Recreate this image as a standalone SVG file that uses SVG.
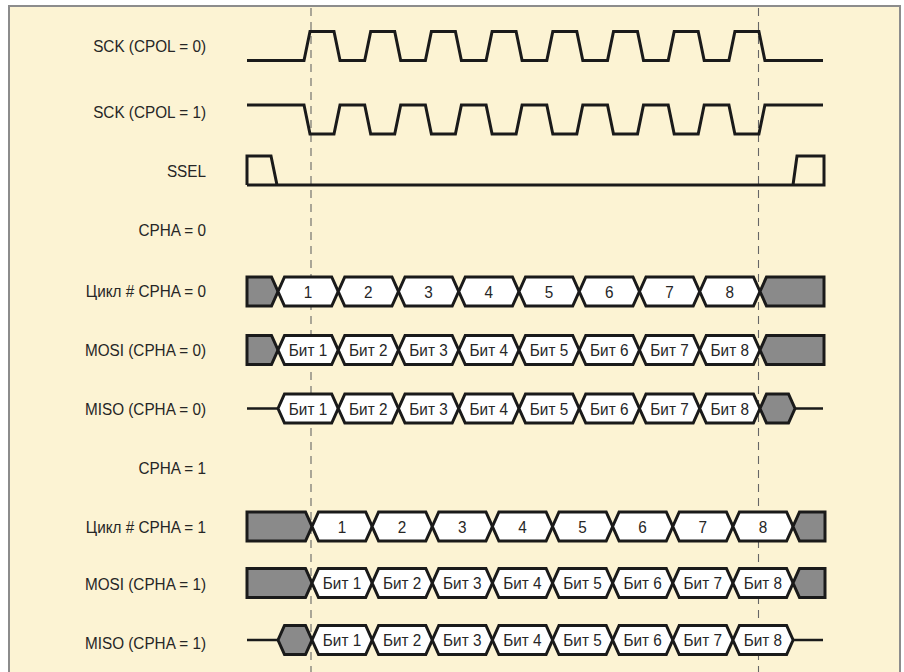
<svg xmlns="http://www.w3.org/2000/svg" xmlns:xlink="http://www.w3.org/1999/xlink" width="904" height="672" viewBox="0 0 904 672">
<style>
.lbl{font-family:"Liberation Sans",Arial,sans-serif;font-size:17px;fill:#262626;text-anchor:end}
.ht{font-family:"Liberation Sans",Arial,sans-serif;font-size:17px;fill:#262626;text-anchor:middle}
.wave{fill:none;stroke:#1a1a1a;stroke-width:3;stroke-linejoin:miter}
.hex{fill:#ffffff;stroke:#1a1a1a;stroke-width:3;stroke-linejoin:miter}
.gray{fill:#8a8a8a;stroke:#1a1a1a;stroke-width:3;stroke-linejoin:miter}
.idle{fill:none;stroke:#1a1a1a;stroke-width:2.5}
.dash{stroke:#666;stroke-width:1.1;stroke-dasharray:8 6;fill:none}
</style>
<defs>
<polygon id="hx" class="hex" points="0,0 6.5,-14.5 53.7,-14.5 60.2,0 53.7,14.5 6.5,14.5"/>
</defs>
<rect x="0" y="0" width="904" height="672" fill="#ffffff"/>
<rect x="9" y="6" width="891" height="680" fill="#fcf3d3" stroke="#8c8c8c" stroke-width="2"/>

<g id="connectors">
<line class="dash" x1="311" y1="8" x2="311" y2="672"/>
<line class="dash" x1="758.5" y1="8" x2="758.5" y2="672"/>
</g>

<g id="sck0">
<text class="lbl" transform="translate(206,52) scale(0.9,1)">SCK (CPOL = 0)</text>
<path class="wave" d="M247,60.5 L304,60.5 L310,31.5 L334,31.5 L340,60.5 L364.7,60.5 L370.7,31.5 L394.7,31.5 L400.7,60.5 L425.4,60.5 L431.4,31.5 L455.4,31.5 L461.4,60.5 L486.1,60.5 L492.1,31.5 L516.1,31.5 L522.1,60.5 L546.8,60.5 L552.8,31.5 L576.8,31.5 L582.8,60.5 L607.5,60.5 L613.5,31.5 L637.5,31.5 L643.5,60.5 L668.2,60.5 L674.2,31.5 L698.2,31.5 L704.2,60.5 L728.9,60.5 L734.9,31.5 L758.9,31.5 L764.9,60.5 L823,60.5"/>
</g>

<g id="sck1">
<text class="lbl" transform="translate(206,118) scale(0.9,1)">SCK (CPOL = 1)</text>
<path class="wave" d="M247,105 L304,105 L310,134 L334,134 L340,105 L364.7,105 L370.7,134 L394.7,134 L400.7,105 L425.4,105 L431.4,134 L455.4,134 L461.4,105 L486.1,105 L492.1,134 L516.1,134 L522.1,105 L546.8,105 L552.8,134 L576.8,134 L582.8,105 L607.5,105 L613.5,134 L637.5,134 L643.5,105 L668.2,105 L674.2,134 L698.2,134 L704.2,105 L728.9,105 L734.9,134 L758.9,134 L764.9,105 L823,105"/>
</g>

<g id="ssel">
<text class="lbl" transform="translate(206,177) scale(0.9,1)">SSEL</text>
<path class="wave" d="M247,185 L247,156 L271,156 L277,185 M247,185 L824,185 L824,156 L797,156 L793,185"/>
</g>

<g id="cpha0">
<text class="lbl" transform="translate(206,236) scale(0.9,1)">CPHA = 0</text>
</g>

<g id="cycle0">
<text class="lbl" transform="translate(206,297) scale(0.9,1)">Цикл # CPHA = 0</text>
<polygon class="gray" points="247,277 271.5,277 278,291.5 271.5,306 247,306"/>
<use xlink:href="#hx" x="278" y="291.5"/><use xlink:href="#hx" x="338.25" y="291.5"/><use xlink:href="#hx" x="398.5" y="291.5"/><use xlink:href="#hx" x="458.75" y="291.5"/>
<use xlink:href="#hx" x="519" y="291.5"/><use xlink:href="#hx" x="579.25" y="291.5"/><use xlink:href="#hx" x="639.5" y="291.5"/><use xlink:href="#hx" x="699.75" y="291.5"/>
<polygon class="gray" points="760,291.5 766.5,277 824,277 824,306 766.5,306"/>
<text class="ht" transform="translate(308,297.5) scale(0.9,1)">1</text><text class="ht" transform="translate(368.25,297.5) scale(0.9,1)">2</text><text class="ht" transform="translate(428.5,297.5) scale(0.9,1)">3</text><text class="ht" transform="translate(488.75,297.5) scale(0.9,1)">4</text>
<text class="ht" transform="translate(549,297.5) scale(0.9,1)">5</text><text class="ht" transform="translate(609.25,297.5) scale(0.9,1)">6</text><text class="ht" transform="translate(669.5,297.5) scale(0.9,1)">7</text><text class="ht" transform="translate(729.75,297.5) scale(0.9,1)">8</text>
</g>

<g id="mosi0">
<text class="lbl" transform="translate(206,356) scale(0.9,1)">MOSI (CPHA = 0)</text>
<polygon class="gray" points="247,335.5 271.5,335.5 278,350 271.5,364.5 247,364.5"/>
<use xlink:href="#hx" x="278" y="350"/><use xlink:href="#hx" x="338.25" y="350"/><use xlink:href="#hx" x="398.5" y="350"/><use xlink:href="#hx" x="458.75" y="350"/>
<use xlink:href="#hx" x="519" y="350"/><use xlink:href="#hx" x="579.25" y="350"/><use xlink:href="#hx" x="639.5" y="350"/><use xlink:href="#hx" x="699.75" y="350"/>
<polygon class="gray" points="760,350 766.5,335.5 824,335.5 824,364.5 766.5,364.5"/>
<text class="ht" transform="translate(308,356) scale(0.9,1)">Бит 1</text><text class="ht" transform="translate(368.25,356) scale(0.9,1)">Бит 2</text><text class="ht" transform="translate(428.5,356) scale(0.9,1)">Бит 3</text><text class="ht" transform="translate(488.75,356) scale(0.9,1)">Бит 4</text>
<text class="ht" transform="translate(549,356) scale(0.9,1)">Бит 5</text><text class="ht" transform="translate(609.25,356) scale(0.9,1)">Бит 6</text><text class="ht" transform="translate(669.5,356) scale(0.9,1)">Бит 7</text><text class="ht" transform="translate(729.75,356) scale(0.9,1)">Бит 8</text>
</g>

<g id="miso0">
<text class="lbl" transform="translate(206,414.5) scale(0.9,1)">MISO (CPHA = 0)</text>
<line class="idle" x1="247" y1="408.5" x2="278" y2="408.5"/>
<use xlink:href="#hx" x="278" y="408.5"/><use xlink:href="#hx" x="338.25" y="408.5"/><use xlink:href="#hx" x="398.5" y="408.5"/><use xlink:href="#hx" x="458.75" y="408.5"/>
<use xlink:href="#hx" x="519" y="408.5"/><use xlink:href="#hx" x="579.25" y="408.5"/><use xlink:href="#hx" x="639.5" y="408.5"/><use xlink:href="#hx" x="699.75" y="408.5"/>
<polygon class="gray" points="760,408.5 766.5,394 788.5,394 795,408.5 788.5,423 766.5,423"/>
<line class="idle" x1="795" y1="408.5" x2="823" y2="408.5"/>
<text class="ht" transform="translate(308,414.5) scale(0.9,1)">Бит 1</text><text class="ht" transform="translate(368.25,414.5) scale(0.9,1)">Бит 2</text><text class="ht" transform="translate(428.5,414.5) scale(0.9,1)">Бит 3</text><text class="ht" transform="translate(488.75,414.5) scale(0.9,1)">Бит 4</text>
<text class="ht" transform="translate(549,414.5) scale(0.9,1)">Бит 5</text><text class="ht" transform="translate(609.25,414.5) scale(0.9,1)">Бит 6</text><text class="ht" transform="translate(669.5,414.5) scale(0.9,1)">Бит 7</text><text class="ht" transform="translate(729.75,414.5) scale(0.9,1)">Бит 8</text>
</g>

<g id="cpha1">
<text class="lbl" transform="translate(206,474) scale(0.9,1)">CPHA = 1</text>
</g>

<g id="cycle1">
<text class="lbl" transform="translate(206,533) scale(0.9,1)">Цикл # CPHA = 1</text>
<polygon class="gray" points="247,512 305.5,512 312,526.5 305.5,541 247,541"/>
<use xlink:href="#hx" x="312" y="526.5"/><use xlink:href="#hx" x="372.1" y="526.5"/><use xlink:href="#hx" x="432.25" y="526.5"/><use xlink:href="#hx" x="492.4" y="526.5"/>
<use xlink:href="#hx" x="552.5" y="526.5"/><use xlink:href="#hx" x="612.6" y="526.5"/><use xlink:href="#hx" x="672.75" y="526.5"/><use xlink:href="#hx" x="732.9" y="526.5"/>
<polygon class="gray" points="793,526.5 799.5,512 825,512 825,541 799.5,541"/>
<text class="ht" transform="translate(342,532.5) scale(0.9,1)">1</text><text class="ht" transform="translate(402.1,532.5) scale(0.9,1)">2</text><text class="ht" transform="translate(462.25,532.5) scale(0.9,1)">3</text><text class="ht" transform="translate(522.4,532.5) scale(0.9,1)">4</text>
<text class="ht" transform="translate(582.5,532.5) scale(0.9,1)">5</text><text class="ht" transform="translate(642.6,532.5) scale(0.9,1)">6</text><text class="ht" transform="translate(702.75,532.5) scale(0.9,1)">7</text><text class="ht" transform="translate(762.9,532.5) scale(0.9,1)">8</text>
</g>

<g id="mosi1">
<text class="lbl" transform="translate(206,590) scale(0.9,1)">MOSI (CPHA = 1)</text>
<polygon class="gray" points="247,568.5 305.5,568.5 312,583 305.5,597.5 247,597.5"/>
<use xlink:href="#hx" x="312" y="583"/><use xlink:href="#hx" x="372.1" y="583"/><use xlink:href="#hx" x="432.25" y="583"/><use xlink:href="#hx" x="492.4" y="583"/>
<use xlink:href="#hx" x="552.5" y="583"/><use xlink:href="#hx" x="612.6" y="583"/><use xlink:href="#hx" x="672.75" y="583"/><use xlink:href="#hx" x="732.9" y="583"/>
<polygon class="gray" points="793,583 799.5,568.5 825,568.5 825,597.5 799.5,597.5"/>
<text class="ht" transform="translate(342,589) scale(0.9,1)">Бит 1</text><text class="ht" transform="translate(402.1,589) scale(0.9,1)">Бит 2</text><text class="ht" transform="translate(462.25,589) scale(0.9,1)">Бит 3</text><text class="ht" transform="translate(522.4,589) scale(0.9,1)">Бит 4</text>
<text class="ht" transform="translate(582.5,589) scale(0.9,1)">Бит 5</text><text class="ht" transform="translate(642.6,589) scale(0.9,1)">Бит 6</text><text class="ht" transform="translate(702.75,589) scale(0.9,1)">Бит 7</text><text class="ht" transform="translate(762.9,589) scale(0.9,1)">Бит 8</text>
</g>

<g id="miso1">
<text class="lbl" transform="translate(206,648.5) scale(0.9,1)">MISO (CPHA = 1)</text>
<line class="idle" x1="247" y1="640" x2="278" y2="640"/>
<polygon class="gray" points="278,640 284.5,625.5 305.5,625.5 312,640 305.5,654.5 284.5,654.5"/>
<use xlink:href="#hx" x="312" y="640"/><use xlink:href="#hx" x="372.1" y="640"/><use xlink:href="#hx" x="432.25" y="640"/><use xlink:href="#hx" x="492.4" y="640"/>
<use xlink:href="#hx" x="552.5" y="640"/><use xlink:href="#hx" x="612.6" y="640"/><use xlink:href="#hx" x="672.75" y="640"/><use xlink:href="#hx" x="732.9" y="640"/>
<line class="idle" x1="793" y1="640" x2="823" y2="640"/>
<text class="ht" transform="translate(342,646) scale(0.9,1)">Бит 1</text><text class="ht" transform="translate(402.1,646) scale(0.9,1)">Бит 2</text><text class="ht" transform="translate(462.25,646) scale(0.9,1)">Бит 3</text><text class="ht" transform="translate(522.4,646) scale(0.9,1)">Бит 4</text>
<text class="ht" transform="translate(582.5,646) scale(0.9,1)">Бит 5</text><text class="ht" transform="translate(642.6,646) scale(0.9,1)">Бит 6</text><text class="ht" transform="translate(702.75,646) scale(0.9,1)">Бит 7</text><text class="ht" transform="translate(762.9,646) scale(0.9,1)">Бит 8</text>
</g>
</svg>
